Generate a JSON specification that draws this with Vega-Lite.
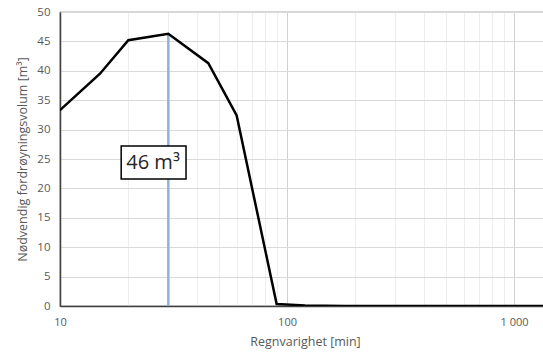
{
  "$schema": "https://vega.github.io/schema/vega-lite/v6.json",
  "width": 490,
  "height": 294,
  "autosize": {"type": "none"},
  "padding": {"left": 60, "top": 12, "right": 0, "bottom": 48},
  "background": "white",
  "config": {
    "font": "Open Sans",
    "view": {"stroke": "#595959", "strokeWidth": 1.2},
    "axis": {
      "labelFont": "Open Sans",
      "titleFont": "Open Sans",
      "labelColor": "#595959",
      "titleColor": "#595959",
      "labelFontSize": 11,
      "titleFontSize": 12.5,
      "titleFontWeight": "normal",
      "ticks": false,
      "labelOverlap": false,
      "labelFlush": false,
      "domainColor": "#404040",
      "domainWidth": 1.5
    }
  },
  "datasets": {
    "curve": [
      {"duration": 10, "volume": 33.3},
      {"duration": 15, "volume": 39.5},
      {"duration": 20, "volume": 45.2},
      {"duration": 30, "volume": 46.3},
      {"duration": 45, "volume": 41.3},
      {"duration": 60, "volume": 32.4},
      {"duration": 90, "volume": 0.35},
      {"duration": 120, "volume": 0.1},
      {"duration": 180, "volume": 0},
      {"duration": 360, "volume": 0},
      {"duration": 720, "volume": 0},
      {"duration": 1440, "volume": 0}
    ],
    "peak": [{"duration": 30, "volume": 46.3, "base": 0}],
    "box": [{"duration": 18.6, "duration2": 35.9, "volume": 21.6, "volume2": 27.2}],
    "label": [{"duration": 25.7, "volume": 24.4, "label": "46 m³"}]
  },
  "encoding": {
    "x": {
      "field": "duration", "type": "quantitative",
      "scale": {"type": "log", "domain": [10, 1440], "nice": false},
      "axis": {
        "title": "Regnvarighet [min]",
        "values": [10, 20, 30, 40, 50, 60, 70, 80, 90, 100, 200, 300, 400, 500, 600, 700, 800, 900, 1000],
        "labelExpr": "datum.value == 10 ? '10' : datum.value == 100 ? '100' : datum.value == 1000 ? '1 000' : ''",
        "labelPadding": 10,
        "titlePadding": 8,
        "gridColor": {"condition": {"test": "datum.value == 100 || datum.value == 1000", "value": "#d0d0d0"}, "value": "#eeeeee"},
        "gridWidth": 1
      }
    },
    "y": {
      "field": "volume", "type": "quantitative",
      "scale": {"domain": [0, 50], "nice": false},
      "axis": {
        "title": "Nødvendig fordrøyningsvolum [m³]",
        "values": [0, 5, 10, 15, 20, 25, 30, 35, 40, 45, 50],
        "labelFontSize": 11.5,
        "labelPadding": 10,
        "titlePadding": 7,
        "gridColor": "#d9d9d9"
      }
    }
  },
  "layer": [
    {
      "data": {"name": "peak"},
      "mark": {"type": "rule", "color": "#8db3dc", "strokeWidth": 2.5},
      "encoding": {
        "y2": {"field": "base"}
      }
    },
    {
      "data": {"name": "box"},
      "mark": {"type": "rect", "fill": "white", "stroke": "black", "strokeWidth": 1.5},
      "encoding": {
        "x2": {"field": "duration2"},
        "y2": {"field": "volume2"}
      }
    },
    {
      "data": {"name": "label"},
      "mark": {"type": "text", "fontSize": 20, "color": "#262626", "font": "Open Sans", "align": "center", "baseline": "middle"},
      "encoding": {
        "text": {"field": "label"}
      }
    },
    {
      "data": {"name": "curve"},
      "mark": {"type": "line", "color": "black", "strokeWidth": 2.5, "clip": true}
    }
  ]
}
